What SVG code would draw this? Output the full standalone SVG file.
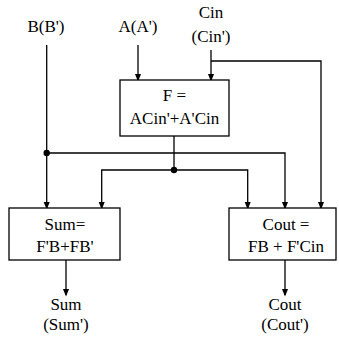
<svg xmlns="http://www.w3.org/2000/svg" width="339" height="339" viewBox="0 0 339 339">
<style>
.box{fill:#fff;stroke:#000;stroke-width:1.3}
.w{fill:none;stroke:#000;stroke-width:1.3}
</style>
<defs>
<marker id="ah" markerWidth="8" markerHeight="10" refX="8" refY="4" orient="auto" markerUnits="userSpaceOnUse" viewBox="0 0 10 8">
<path d="M0,0 L10,4 L0,8 z" fill="#000"/>
</marker>
</defs>
<g font-family="Liberation Serif" font-size="17" text-anchor="middle" fill="#000">
<g id="labels-in">
<text x="46" y="32">B(B')</text>
<text x="138" y="32">A(A')</text>
<text x="211" y="18">Cin</text>
<text x="211" y="42">(Cin')</text>
</g>
<g id="connectors">
<path class="w" d="M138,45 V80" marker-end="url(#ah)"/>
<path class="w" d="M211,50 V80" marker-end="url(#ah)"/>
<path class="w" d="M211,61 H321 V208" marker-end="url(#ah)"/>
<path class="w" d="M46.7,45 V208" marker-end="url(#ah)"/>
<path class="w" d="M46.7,153 H285 V208" marker-end="url(#ah)"/>
<path class="w" d="M174,136 V170"/>
<path class="w" d="M174,170 H101.7 V208" marker-end="url(#ah)"/>
<path class="w" d="M174,170 H247.7 V208" marker-end="url(#ah)"/>
<path class="w" d="M66,260 V295" marker-end="url(#ah)"/>
<path class="w" d="M285,260 V295" marker-end="url(#ah)"/>
<circle cx="46.7" cy="153" r="3.2" fill="#000"/>
<circle cx="174" cy="170" r="3.2" fill="#000"/>
</g>
<g id="node-f">
<rect class="box" x="120" y="80" width="109" height="56"/>
<text x="174.5" y="101">F =</text>
<text x="174.5" y="124">ACin'+A'Cin</text>
</g>
<g id="node-sum">
<rect class="box" x="9" y="208" width="111" height="52"/>
<text x="65" y="230">Sum=</text>
<text x="65" y="252">F'B+FB'</text>
</g>
<g id="node-cout">
<rect class="box" x="229" y="208" width="107" height="52"/>
<text x="286" y="230">Cout =</text>
<text x="286" y="252">FB + F'Cin</text>
</g>
<g id="labels-out">
<text x="66" y="310">Sum</text>
<text x="66" y="330">(Sum')</text>
<text x="285" y="310">Cout</text>
<text x="285" y="330">(Cout')</text>
</g>
</g>
</svg>
